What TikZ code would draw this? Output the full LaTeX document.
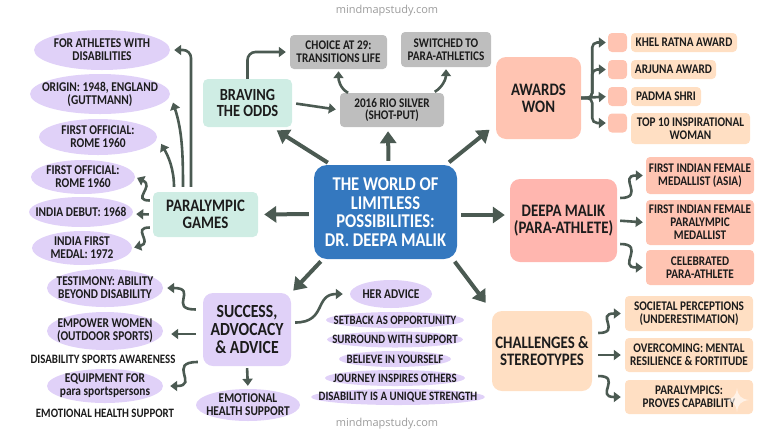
\documentclass[tikz,border=0pt]{standalone}
\usepackage{fontspec}
\setmainfont{Carlito}[FakeStretch=0.85,BoldFont=Carlito Bold,BoldFeatures={FakeStretch=0.85}]
\newfontfamily\markfont{Open Sans}
\usetikzlibrary{arrows.meta,shapes.geometric}

\definecolor{inkgreen}{HTML}{4B5A52}
\definecolor{lilac}{HTML}{E0D1F8}
\definecolor{mint}{HTML}{CFEDE4}
\definecolor{stone}{HTML}{BEBEBE}
\definecolor{worldblue}{HTML}{3478BF}
\definecolor{salmon}{HTML}{FFC4B2}
\definecolor{rosy}{HTML}{FFB6AF}
\definecolor{apricot}{HTML}{FFDFC3}
\definecolor{markgrey}{HTML}{9B9B9B}
\definecolor{inktext}{HTML}{1C1C1C}

\tikzset{
    oval/.style 2 args={shape=ellipse,fill=lilac,inner xsep=-100pt,inner ysep=-30pt,minimum width=#1pt,minimum height=#2pt,align=center,text=inktext,font=\fontsize{13.4}{13}\selectfont\bfseries},
    bar/.style 2 args={oval={#1}{16},font=\fontsize{12.8}{13}\selectfont\bfseries},
    chip/.style n args={3}{shape=rectangle,rounded corners=4pt,fill=#1,inner sep=0pt,minimum width=#2pt,minimum height=#3pt,align=center,text=inktext,font=\fontsize{13.2}{12.8}\selectfont\bfseries},
    topic/.style n args={3}{chip={#1}{#2}{#3},rounded corners=10pt,font=\fontsize{17.5}{17}\selectfont\bfseries},
    bigarrow/.style={draw=inkgreen,line width=4pt,-{Triangle[length=12pt,width=16pt]}},
    midarrow/.style={color=inkgreen,line width=2.6pt,-{Triangle[length=7pt,width=10pt]}},
    free/.style={font=\fontsize{12.8}{13}\selectfont\bfseries,text=inktext,inner sep=0pt},
    sitemark/.style={font=\fontsize{11}{13}\selectfont\markfont,text=markgrey,inner sep=0pt}
}

\begin{document}
\begin{tikzpicture}[x=1pt,y=-1pt]
    \useasboundingbox (0,0) rectangle (768,432);

    \node[sitemark] (marktop) at (387,11) {mindmapstudy.com};
    \node[sitemark] (markbottom) at (387,424) {mindmapstudy.com};

    \node[topic={worldblue}{143}{94},rounded corners=13pt,text=white,font=\fontsize{19.5}{18.6}\selectfont\bfseries] (world) at (385.5,212) {THE WORLD OF\\LIMITLESS\\POSSIBILITIES:\\DR. DEEPA MALIK};

    % left branch
    \node[topic={mint}{105}{45},rounded corners=5pt] (games) at (205.5,214.5) {PARALYMPIC\\GAMES};
    \node[oval={136}{40}] (athletes) at (102,50) {FOR ATHLETES WITH\\DISABILITIES};
    \node[oval={140}{40}] (origin) at (100,94) {ORIGIN: 1948, ENGLAND\\(GUTTMANN)};
    \node[oval={118}{36}] (romeA) at (98,137) {FIRST OFFICIAL:\\ROME 1960};
    \node[oval={104}{34}] (romeB) at (83,177) {FIRST OFFICIAL:\\ROME 1960};
    \node[oval={104}{30}] (debut) at (81,212) {INDIA DEBUT: 1968};
    \node[oval={100}{34}] (medal) at (82,248) {INDIA FIRST\\MEDAL: 1972};

    % top branch
    \node[topic={mint}{89}{48},rounded corners=5pt,font=\fontsize{17}{16.5}\selectfont\bfseries] (braving) at (247.5,103) {BRAVING\\THE ODDS};
    \node[chip={stone}{97}{34}] (choice) at (338.5,52) {CHOICE AT 29:\\TRANSITIONS LIFE};
    \node[chip={stone}{90}{35}] (switched) at (446,49.5) {SWITCHED TO\\PARA-ATHLETICS};
    \node[chip={stone}{104}{34}] (silver) at (392,110) {2016 RIO SILVER\\(SHOT-PUT)};

    % awards
    \node[topic={salmon}{85}{82}] (awards) at (538.5,98) {AWARDS\\WON};
    \node[chip={salmon}{19}{19}] (squareA) at (617.5,42.5) {};
    \node[chip={salmon}{19}{19}] (squareB) at (617.5,69.5) {};
    \node[chip={salmon}{19}{19}] (squareC) at (617.5,96.5) {};
    \node[chip={salmon}{19}{19}] (squareD) at (617.5,123) {};
    \node[chip={apricot}{106}{19}] (khel) at (684,42.5) {KHEL RATNA AWARD};
    \node[chip={apricot}{85}{19}] (arjuna) at (673.5,69.5) {ARJUNA AWARD};
    \node[chip={apricot}{70}{19}] (padma) at (666,96.5) {PADMA SHRI};
    \node[chip={apricot}{119}{31}] (inspire) at (690.5,128.5) {TOP 10 INSPIRATIONAL\\WOMAN};

    % deepa
    \node[topic={rosy}{107}{83}] (deepa) at (563.5,220.5) {DEEPA MALIK\\(PARA-ATHLETE)};
    \node[chip={salmon}{108}{37}] (asia) at (700,175.5) {FIRST INDIAN FEMALE\\MEDALLIST (ASIA)};
    \node[chip={salmon}{108}{45}] (paramedal) at (700,222.5) {FIRST INDIAN FEMALE\\PARALYMPIC\\MEDALLIST};
    \node[chip={salmon}{108}{35}] (celebrated) at (700,267.5) {CELEBRATED\\PARA-ATHLETE};

    % challenges
    \node[topic={apricot}{100}{80}] (challenges) at (542,351) {CHALLENGES \&\\STEREOTYPES};
    \node[chip={apricot}{128}{35}] (societal) at (689,313.5) {SOCIETAL PERCEPTIONS\\(UNDERESTIMATION)};
    \node[chip={apricot}{128}{34}] (overcoming) at (689,355) {OVERCOMING: MENTAL\\RESILIENCE \& FORTITUDE};
    \node[chip={apricot}{128}{34}] (proves) at (689,397) {PARALYMPICS:\\PROVES CAPABILITY};

    % success
    \node[topic={lilac}{88}{73},font=\fontsize{18.5}{17.7}\selectfont\bfseries] (success) at (247,329.5) {SUCCESS,\\ADVOCACY\\\& ADVICE};
    \node[oval={116}{38}] (testimony) at (105,288) {TESTIMONY: ABILITY\\BEYOND DISABILITY};
    \node[oval={116}{38}] (empower) at (105,331) {EMPOWER WOMEN\\(OUTDOOR SPORTS)};
    \node[free] (awareness) at (103,359) {DISABILITY SPORTS AWARENESS};
    \node[oval={116}{34}] (equipment) at (105,386) {EQUIPMENT FOR\\para sportspersons};
    \node[free] (healthtext) at (105,413) {EMOTIONAL HEALTH SUPPORT};
    \node[oval={104}{32}] (health) at (248,405) {EMOTIONAL\\HEALTH SUPPORT};
    \node[oval={82}{28}] (advice) at (391,294) {HER ADVICE};
    \node[bar={138}{16}] (setback) at (395,320) {SETBACK AS OPPORTUNITY};
    \node[bar={136}{16}] (surround) at (395,339.5) {SURROUND WITH SUPPORT};
    \node[bar={112}{16}] (believe) at (395,359) {BELIEVE IN YOURSELF};
    \node[bar={140}{16}] (journey) at (395,378) {JOURNEY INSPIRES OTHERS};
    \node[bar={174}{16}] (unique) at (398,397) {DISABILITY IS A UNIQUE STRENGTH};

    % arrows from the middle
    \draw[bigarrow,shorten <=4pt,shorten >=6pt] (world.139) -- (braving.-45);
    \draw[bigarrow,shorten <=4pt,shorten >=4pt] ([xshift=3pt]world.north) -- ([xshift=-4pt]silver.south);
    \draw[bigarrow,shorten <=4pt,shorten >=8pt] (world.38) -- (awards.212);
    \draw[bigarrow,shorten <=4pt,shorten >=5pt] ([yshift=-3pt]world.east) -- ([yshift=5.5pt]deepa.west);
    \draw[bigarrow,shorten <=5pt,shorten >=6pt] ([yshift=-2pt]world.west) -- (games.east);
    \draw[bigarrow,shorten <=3pt,shorten >=3pt] (world.-143.5) -- (success.north east);
    \draw[bigarrow,shorten <=3pt,shorten >=10pt] (world.-35) -- (challenges.north west);

    % paralympic games
    \draw[midarrow,rounded corners=8pt,shorten >=4pt,shorten <=5pt] ([xshift=-14.5pt]games.north) |- (athletes);
    \path[midarrow,shorten >=9pt,shorten <=5pt] ([xshift=-22.5pt]games.north) edge [out=90,in=-72] (origin.east);
    \path[midarrow,shorten >=8pt,shorten <=5pt] ([xshift=-31.5pt]games.north) edge [out=90,in=-60] (romeA.east);
    \path[midarrow,shorten >=2pt,shorten <=3pt] ([yshift=14pt]games.west) edge [out=180,in=-25,looseness=1.9] (romeB.east);
    \path[midarrow,shorten >=3pt,shorten <=4pt] (games.west) edge ([yshift=-2pt]debut.east);
    \path[midarrow,shorten >=2pt,shorten <=3pt] ([yshift=-13pt]games.west) edge [out=180,in=15,looseness=1.9] (medal.east);

    % braving the odds
    \draw[midarrow,rounded corners=8pt,shorten >=4pt] (braving.north) |- (choice);
    \path[midarrow,shorten >=4pt,shorten <=4pt] (braving.east) edge (silver.west);
    \path[midarrow,shorten >=2pt] ([xshift=-44pt]silver.north) edge [out=150,in=-90] (choice.south);
    \path[midarrow,shorten >=2pt,shorten <=2pt] ([xshift=41pt]silver.north) edge [out=30,in=-90] (switched.south);

    % awards won
    \draw[midarrow,rounded corners=5pt,shorten >=2pt] (awards.east) -- ++(11,0) |- (squareA);
    \draw[midarrow,rounded corners=5pt,shorten >=2pt] (awards.east) -- ++(11,0) |- (squareB);
    \draw[midarrow,shorten >=2pt] (awards.east) -- (squareC.west);
    \draw[midarrow,rounded corners=5pt,shorten >=2pt] (awards.east) -- ++(11,0) |- (squareD);

    % deepa malik
    \path[midarrow,shorten >=3pt,shorten <=3pt] ([yshift=22.5pt]deepa.east) edge [out=0,in=180,looseness=2] (asia.west);
    \path[midarrow,shorten >=3pt,shorten <=3pt] (deepa.east) edge (paramedal.west);
    \path[midarrow,shorten >=3pt,shorten <=3pt] ([yshift=-23.5pt]deepa.east) edge [out=0,in=180,looseness=2] (celebrated.west);

    % challenges
    \path[midarrow,shorten >=4pt,shorten <=6pt] ([yshift=18pt]challenges.east) edge [out=0,in=180,looseness=2] (societal.west);
    \path[midarrow,shorten >=4pt,shorten <=6pt] ([yshift=-4pt]challenges.east) edge (overcoming.west);
    \path[midarrow,shorten >=4pt,shorten <=6pt] ([yshift=-25pt]challenges.east) edge [out=0,in=180,looseness=2] (proves.west);

    % success
    \path[midarrow,shorten >=4pt,shorten <=7pt] ([yshift=20pt]success.west) edge [out=180,in=0,looseness=2] (testimony.east);
    \path[midarrow,shorten >=8pt,shorten <=7pt] ([yshift=-4.5pt]success.west) edge ([yshift=-3pt]empower.east);
    \path[midarrow,shorten >=7pt,shorten <=5pt] ([yshift=-32.5pt]success.west) edge [out=180,in=0,looseness=2] (equipment.east);
    \path[midarrow,shorten >=3pt,shorten <=2pt] (success.south) edge (health.north);
    \path[midarrow,shorten >=7pt,shorten <=4pt] ([yshift=7pt]success.east) edge [out=0,in=180,looseness=1.4] (advice.west);

    % faint sparkle
    \fill[white,opacity=0.6] (737,388) .. controls (738,396) and (741,399) .. (749,400) .. controls (741,401) and (738,404) .. (737,412) .. controls (736,404) and (733,401) .. (725,400) .. controls (733,399) and (736,396) .. (737,388);
\end{tikzpicture}
\end{document}
